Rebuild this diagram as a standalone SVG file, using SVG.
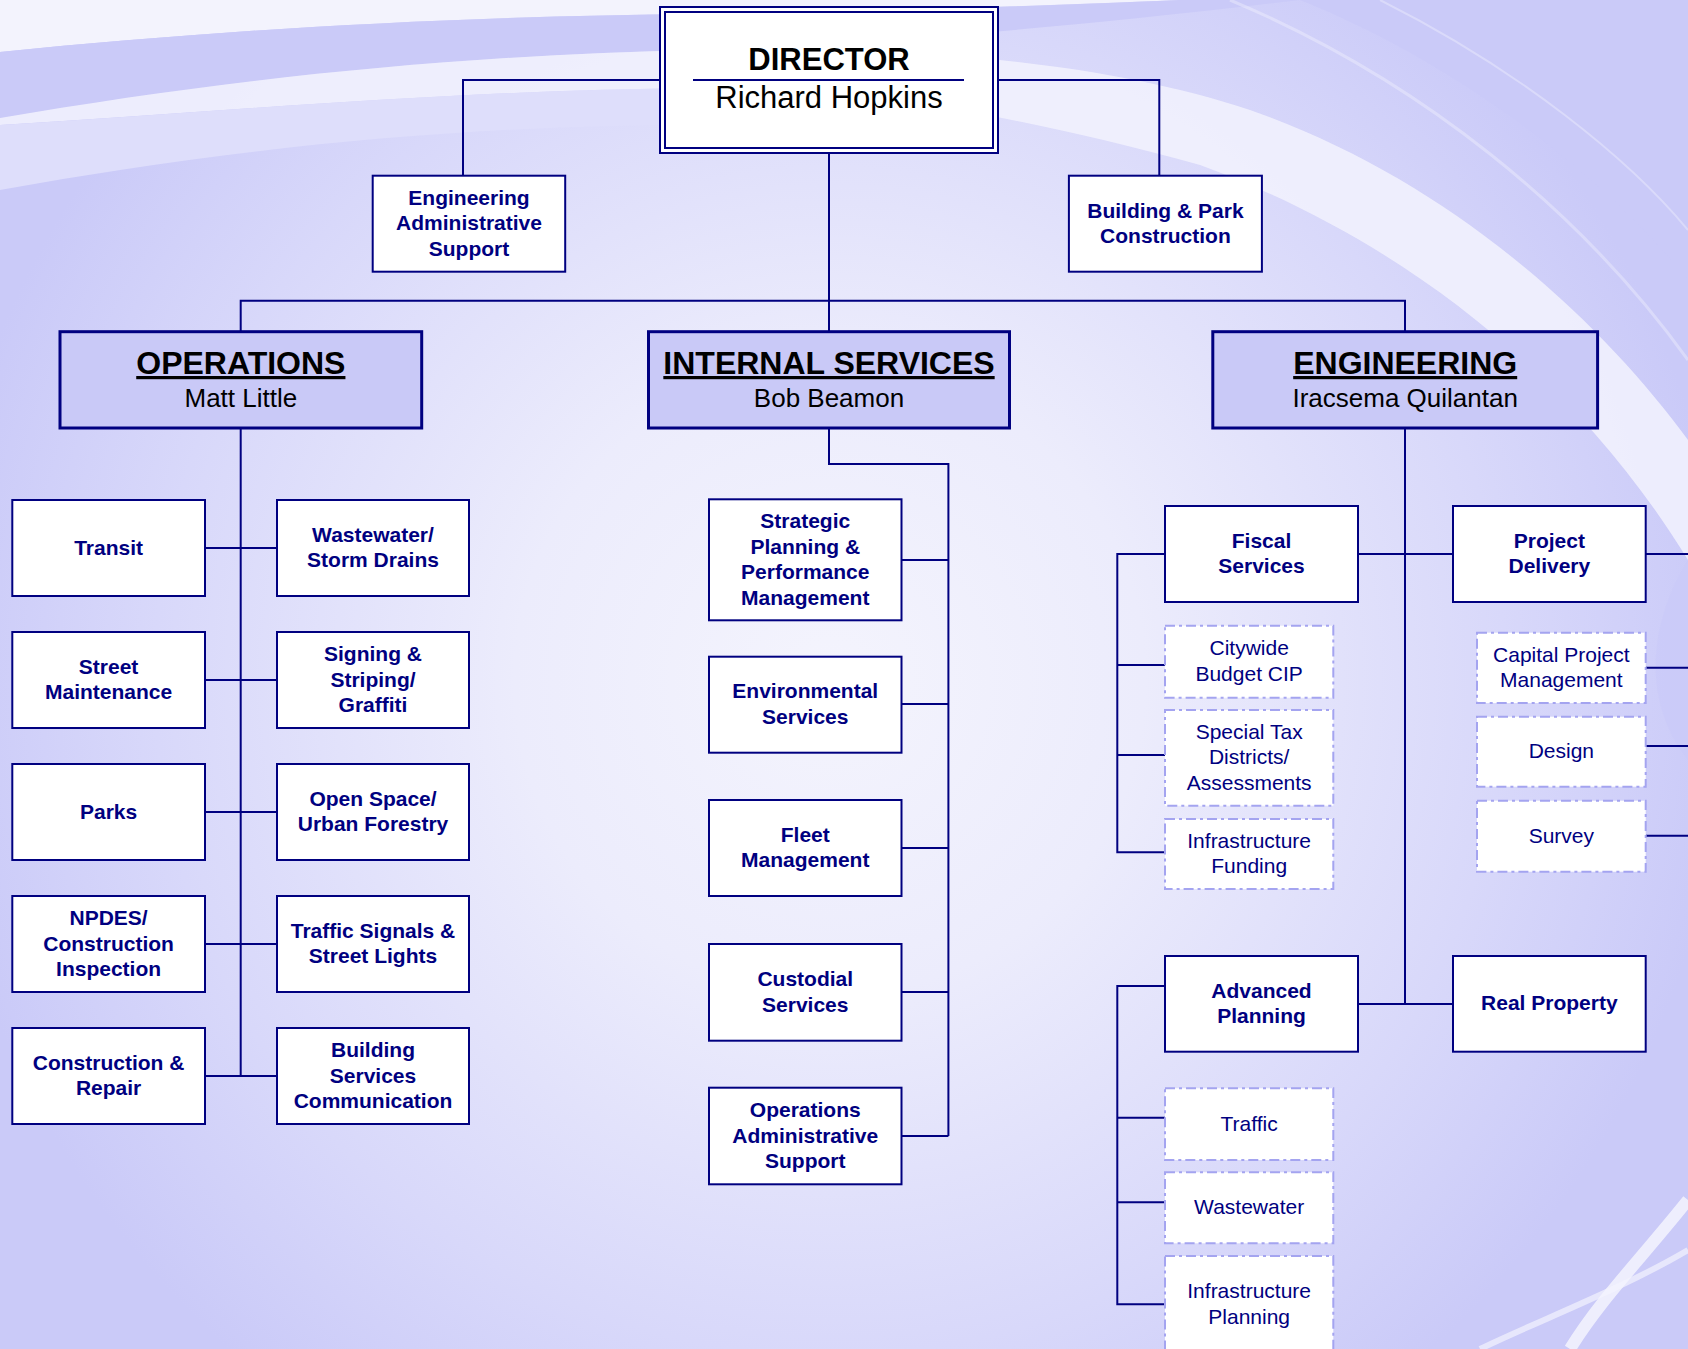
<svg xmlns="http://www.w3.org/2000/svg" width="1688" height="1349" viewBox="0 0 1688 1349">
<defs>
<radialGradient id="bg" cx="830" cy="680" r="900" gradientUnits="userSpaceOnUse">
<stop offset="0" stop-color="#f4f4fd"/>
<stop offset="0.35" stop-color="#ececfc"/>
<stop offset="0.75" stop-color="#d8d8fa"/>
<stop offset="1" stop-color="#cacaf8"/>
</radialGradient>
<style>
.conn{fill:none;stroke:#000080;stroke-width:2}
.box{fill:#fff;stroke:#000080;stroke-width:2}
.div{fill:#c9c9f7;stroke:#000080;stroke-width:3}
.dash{fill:#fff;stroke:#a4a4f0;stroke-width:2;stroke-dasharray:10 4 3 4}
.t{font-family:"Liberation Sans",Arial,sans-serif;font-size:21px;font-weight:bold;fill:#000080;text-anchor:middle}
.d{font-family:"Liberation Sans",Arial,sans-serif;font-size:21px;fill:#000080;text-anchor:middle}
.h{font-family:"Liberation Sans",Arial,sans-serif;font-size:32px;font-weight:bold;fill:#000;text-anchor:middle;text-decoration:underline}
.n{font-family:"Liberation Sans",Arial,sans-serif;font-size:26px;fill:#000;text-anchor:middle}
.dt{font-family:"Liberation Sans",Arial,sans-serif;font-size:31px;fill:#000;text-anchor:middle}
</style>
</defs>
<g id="background">
<rect x="0" y="0" width="1688" height="1349" fill="url(#bg)"/>
<path d="M0,0 H1180 C1000,8 800,12 700,14 C450,16 220,30 0,52 Z" fill="#f3f3fd"/>
<path d="M0,52 C220,30 450,16 700,14 C800,12 950,10 1180,0 H1300 C1050,30 850,45 700,50 C450,55 220,80 0,118 Z" fill="#cacaf8"/>
<path d="M0,118 C220,80 450,55 700,50 C900,45 1100,60 1250,110 C1450,180 1600,320 1688,440 L1688,560 C1590,400 1430,250 1200,165 C1000,110 850,88 700,88 C450,90 220,112 0,125 Z" fill="#f1f1fd" opacity="0.9"/>
<path d="M0,125 C220,112 450,90 700,88 L700,125 C450,125 220,150 0,190 Z" fill="#dedefb"/>
<path d="M1300,0 C1450,60 1600,170 1688,280 L1688,0 Z" fill="#cacaf8"/>
<path d="M1230,0 C1420,80 1580,210 1688,360" fill="none" stroke="#ffffff" stroke-width="3" opacity="0.3"/>
<path d="M1380,0 C1520,70 1630,160 1688,230" fill="none" stroke="#ffffff" stroke-width="2" opacity="0.3"/>
<path d="M1688,560 C1650,620 1640,700 1688,760 Z" fill="#cacaf8" opacity="0.6"/>
<path d="M1688,1200 C1640,1260 1600,1300 1570,1349" fill="none" stroke="#f4f4fe" stroke-width="12" opacity="0.85"/>
<path d="M1688,1250 C1620,1290 1540,1320 1480,1349" fill="none" stroke="#f4f4fe" stroke-width="6" opacity="0.7"/>
</g>
<g id="connectors">
<path class="conn" d="M660,80 H463 V175.7"/>
<path class="conn" d="M998,80 H1159.3 V175.7"/>
<path class="conn" d="M829,153 V331.7"/>
<path class="conn" d="M240.7,331.7 V300.7 H1405 V331.7"/>
<path class="conn" d="M240.7,428 V1076"/>
<path class="conn" d="M205,548 H277 M205,680 H277 M205,812 H277 M205,944 H277 M205,1076 H277"/>
<path class="conn" d="M829,428 V464 H948.4 V1136"/>
<path class="conn" d="M901.5,560 H948.4 M901.5,704 H948.4 M901.5,848 H948.4 M901.5,992 H948.4 M901.5,1136 H948.4"/>
<path class="conn" d="M1405,428 V1004"/>
<path class="conn" d="M1358,554 H1453 M1645.7,554 H1688 M1358,1004 H1453"/>
<path class="conn" d="M1165,554 H1117.3 V852.3 H1165 M1117.3,665 H1165 M1117.3,755 H1165"/>
<path class="conn" d="M1645.7,667.7 H1688 M1645.7,746 H1688 M1645.7,835.7 H1688"/>
<path class="conn" d="M1165,986 H1117.3 V1304.3 H1165 M1117.3,1117.7 H1165 M1117.3,1202.3 H1165"/>
</g>
<g id="director">
<rect x="660" y="7" width="338" height="146" fill="#fff" stroke="#000080" stroke-width="2"/>
<rect x="665" y="12" width="328" height="136" fill="none" stroke="#000080" stroke-width="2"/>
<line x1="693" y1="80" x2="964" y2="80" stroke="#000080" stroke-width="2"/>
<text class="dt" x="829" y="70" font-weight="bold">DIRECTOR</text>
<text class="dt" x="829" y="108">Richard Hopkins</text>
</g>
<g id="eng-admin-support">
<rect class="box" x="372.7" y="175.7" width="192.5" height="96"/>
<text class="t" x="469" y="204.7">Engineering</text>
<text class="t" x="469" y="230.2">Administrative</text>
<text class="t" x="469" y="255.7">Support</text>
</g>
<g id="building-park">
<rect class="box" x="1068.9" y="175.7" width="193" height="96"/>
<text class="t" x="1165.4" y="217.5">Building &amp; Park</text>
<text class="t" x="1165.4" y="243">Construction</text>
</g>
<g id="operations">
<rect class="div" x="60" y="331.7" width="361.7" height="96.3"/>
<text class="h" x="240.85" y="374">OPERATIONS</text>
<text class="n" x="240.85" y="406.7">Matt Little</text>
</g>
<g id="internal-services">
<rect class="div" x="648.5" y="331.7" width="361" height="96.3"/>
<text class="h" x="829" y="374">INTERNAL SERVICES</text>
<text class="n" x="829" y="406.7">Bob Beamon</text>
</g>
<g id="engineering">
<rect class="div" x="1212.8" y="331.7" width="384.8" height="96.3"/>
<text class="h" x="1405.2" y="374">ENGINEERING</text>
<text class="n" x="1405.2" y="406.7">Iracsema Quilantan</text>
</g>
<g id="transit">
<rect class="box" x="12.3" y="500" width="192.7" height="96"/>
<text class="t" x="108.6" y="554.5">Transit</text>
</g>
<g id="wastewater-storm">
<rect class="box" x="277" y="500" width="192" height="96"/>
<text class="t" x="373" y="541.75">Wastewater/</text>
<text class="t" x="373" y="567.25">Storm Drains</text>
</g>
<g id="street-maintenance">
<rect class="box" x="12.3" y="632" width="192.7" height="96"/>
<text class="t" x="108.6" y="673.75">Street</text>
<text class="t" x="108.6" y="699.25">Maintenance</text>
</g>
<g id="signing-striping">
<rect class="box" x="277" y="632" width="192" height="96"/>
<text class="t" x="373" y="661">Signing &amp;</text>
<text class="t" x="373" y="686.5">Striping/</text>
<text class="t" x="373" y="712">Graffiti</text>
</g>
<g id="parks">
<rect class="box" x="12.3" y="764" width="192.7" height="96"/>
<text class="t" x="108.6" y="818.5">Parks</text>
</g>
<g id="open-space">
<rect class="box" x="277" y="764" width="192" height="96"/>
<text class="t" x="373" y="805.75">Open Space/</text>
<text class="t" x="373" y="831.25">Urban Forestry</text>
</g>
<g id="npdes">
<rect class="box" x="12.3" y="896" width="192.7" height="96"/>
<text class="t" x="108.6" y="925">NPDES/</text>
<text class="t" x="108.6" y="950.5">Construction</text>
<text class="t" x="108.6" y="976">Inspection</text>
</g>
<g id="traffic-signals">
<rect class="box" x="277" y="896" width="192" height="96"/>
<text class="t" x="373" y="937.75">Traffic Signals &amp;</text>
<text class="t" x="373" y="963.25">Street Lights</text>
</g>
<g id="construction-repair">
<rect class="box" x="12.3" y="1028" width="192.7" height="96"/>
<text class="t" x="108.6" y="1069.75">Construction &amp;</text>
<text class="t" x="108.6" y="1095.25">Repair</text>
</g>
<g id="building-services">
<rect class="box" x="277" y="1028" width="192" height="96"/>
<text class="t" x="373" y="1057">Building</text>
<text class="t" x="373" y="1082.5">Services</text>
<text class="t" x="373" y="1108">Communication</text>
</g>
<g id="strategic-planning">
<rect class="box" x="709" y="499.3" width="192.5" height="121"/>
<text class="t" x="805.25" y="528">Strategic</text>
<text class="t" x="805.25" y="553.5">Planning &amp;</text>
<text class="t" x="805.25" y="579">Performance</text>
<text class="t" x="805.25" y="604.5">Management</text>
</g>
<g id="environmental">
<rect class="box" x="709" y="656.7" width="192.5" height="96"/>
<text class="t" x="805.25" y="698.45">Environmental</text>
<text class="t" x="805.25" y="723.95">Services</text>
</g>
<g id="fleet">
<rect class="box" x="709" y="800" width="192.5" height="96"/>
<text class="t" x="805.25" y="841.75">Fleet</text>
<text class="t" x="805.25" y="867.25">Management</text>
</g>
<g id="custodial">
<rect class="box" x="709" y="944" width="192.5" height="96.7"/>
<text class="t" x="805.25" y="986.1">Custodial</text>
<text class="t" x="805.25" y="1011.6">Services</text>
</g>
<g id="ops-admin-support">
<rect class="box" x="709" y="1087.7" width="192.5" height="96.6"/>
<text class="t" x="805.25" y="1117">Operations</text>
<text class="t" x="805.25" y="1142.5">Administrative</text>
<text class="t" x="805.25" y="1168">Support</text>
</g>
<g id="fiscal-services">
<rect class="box" x="1165" y="506" width="193" height="96"/>
<text class="t" x="1261.5" y="547.75">Fiscal</text>
<text class="t" x="1261.5" y="573.25">Services</text>
</g>
<g id="project-delivery">
<rect class="box" x="1453" y="506" width="192.7" height="96"/>
<text class="t" x="1549.35" y="547.75">Project</text>
<text class="t" x="1549.35" y="573.25">Delivery</text>
</g>
<g id="citywide-budget">
<rect class="dash" x="1165" y="625.7" width="168.3" height="72"/>
<text class="d" x="1249.15" y="655.45">Citywide</text>
<text class="d" x="1249.15" y="680.95">Budget CIP</text>
</g>
<g id="special-tax">
<rect class="dash" x="1165" y="710" width="168.3" height="95.7"/>
<text class="d" x="1249.15" y="738.85">Special Tax</text>
<text class="d" x="1249.15" y="764.35">Districts/</text>
<text class="d" x="1249.15" y="789.85">Assessments</text>
</g>
<g id="infrastructure-funding">
<rect class="dash" x="1165" y="819" width="168.3" height="70"/>
<text class="d" x="1249.15" y="847.75">Infrastructure</text>
<text class="d" x="1249.15" y="873.25">Funding</text>
</g>
<g id="capital-project">
<rect class="dash" x="1477" y="632.7" width="168.7" height="70.3"/>
<text class="d" x="1561.35" y="661.6">Capital Project</text>
<text class="d" x="1561.35" y="687.1">Management</text>
</g>
<g id="design">
<rect class="dash" x="1477" y="716.7" width="168.7" height="70"/>
<text class="d" x="1561.35" y="758.2">Design</text>
</g>
<g id="survey">
<rect class="dash" x="1477" y="800.7" width="168.7" height="71"/>
<text class="d" x="1561.35" y="842.7">Survey</text>
</g>
<g id="advanced-planning">
<rect class="box" x="1165" y="956" width="193" height="95.7"/>
<text class="t" x="1261.5" y="997.6">Advanced</text>
<text class="t" x="1261.5" y="1023.1">Planning</text>
</g>
<g id="real-property">
<rect class="box" x="1453" y="956" width="192.7" height="95.7"/>
<text class="t" x="1549.35" y="1010.35">Real Property</text>
</g>
<g id="traffic">
<rect class="dash" x="1165" y="1088.3" width="168.3" height="71.7"/>
<text class="d" x="1249.15" y="1130.65">Traffic</text>
</g>
<g id="wastewater">
<rect class="dash" x="1165" y="1172.3" width="168.3" height="71"/>
<text class="d" x="1249.15" y="1214.3">Wastewater</text>
</g>
<g id="infrastructure-planning">
<rect class="dash" x="1165" y="1256" width="168.3" height="110"/>
<text class="d" x="1249.15" y="1298.3">Infrastructure</text>
<text class="d" x="1249.15" y="1324">Planning</text>
</g>
</svg>
